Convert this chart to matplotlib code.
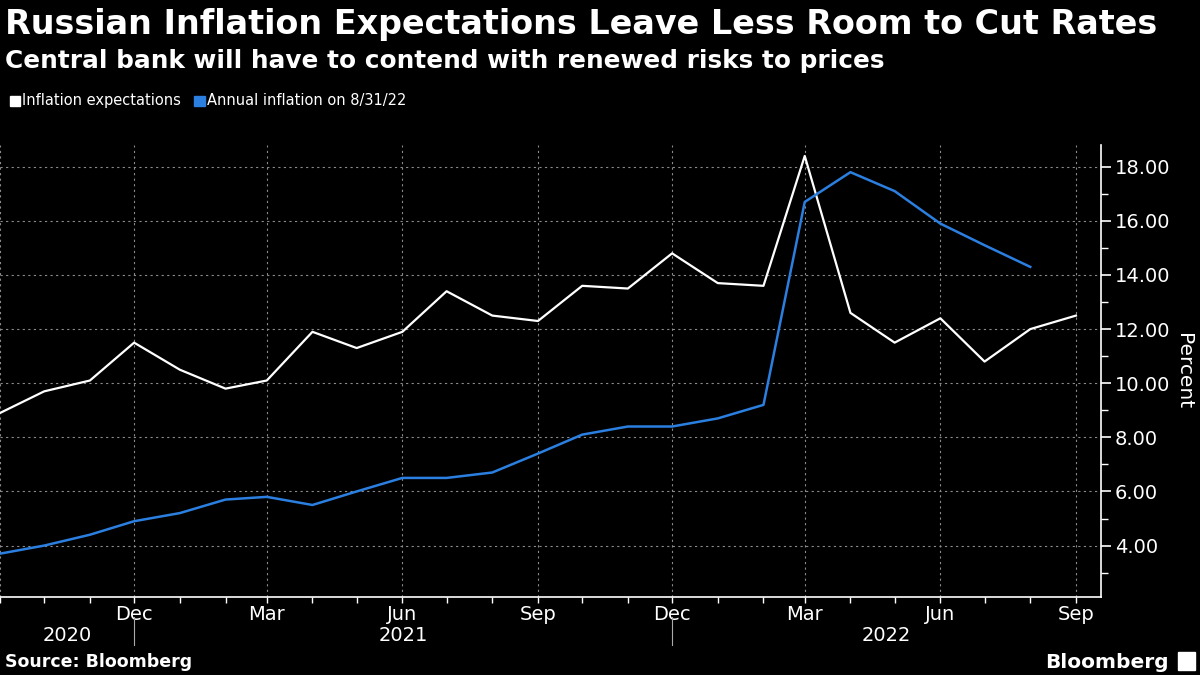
import matplotlib
matplotlib.use("Agg")
import matplotlib.pyplot as plt
import matplotlib.dates as mdates
import matplotlib.transforms as mtransforms
from matplotlib import font_manager
import pandas as pd

months = pd.date_range("2020-09-01", "2022-09-01", freq="MS")

# inflation expectations, Sep 2020 .. Sep 2022
expectations = [8.9, 9.7, 10.1, 11.5, 10.5, 9.8, 10.1, 11.9, 11.3, 11.9, 13.4, 12.5,
                12.3, 13.6, 13.5, 14.8, 13.7, 13.6, 18.4, 12.6, 11.5, 12.4, 10.8, 12.0, 12.5]
# annual inflation, Sep 2020 .. Aug 2022
annual_cpi = [3.7, 4.0, 4.4, 4.9, 5.2, 5.7, 5.8, 5.5, 6.0, 6.5, 6.5, 6.7,
              7.4, 8.1, 8.4, 8.4, 8.7, 9.2, 16.7, 17.8, 17.1, 15.9, 15.1, 14.3]

year_labels = ["2020", "2021", "2022"]
year_breaks = ["2020-12-01", "2021-12-01"]

WHITE = "#ffffff"
BLUE = "#2b7fe0"
GRID = "#8a8a8a"

plt.rcParams["font.family"] = ["DejaVu Sans"]

names = {f.name for f in font_manager.fontManager.ttflist}
narrow = "Liberation Sans Narrow" if "Liberation Sans Narrow" in names else "DejaVu Sans"
leg_size = 13 if narrow != "DejaVu Sans" else 10.5

fig = plt.figure(figsize=(12, 6.75), dpi=100, facecolor="black")
ax = fig.add_axes([0.0, 0.1156, 0.9175, 0.6694], facecolor="black")

ax.plot(months, expectations, color=WHITE, lw=1.6, clip_on=False, zorder=3)
ax.plot(months[:len(annual_cpi)], annual_cpi, color=BLUE, lw=1.8, clip_on=False, zorder=3)

start = pd.Timestamp("2020-09-01")
ax.set_xlim(start, pd.Timestamp("2022-09-18"))
ax.set_ylim(2.1, 18.8)

ax.yaxis.tick_right()
ax.yaxis.set_label_position("right")
ax.set_yticks(range(4, 19, 2))
ax.set_yticklabels([f"{v:.2f}" for v in range(4, 19, 2)])
ax.set_yticks(range(3, 19, 2), minor=True)
ax.set_ylabel("Percent", color=WHITE, fontsize=14.5, rotation=270, labelpad=16)


def month_label(x, pos):
    d = mdates.num2date(x)
    if abs(x - mdates.date2num(start)) < 1:
        return ""
    return d.strftime("%b")


ax.xaxis.set_major_locator(mdates.MonthLocator(bymonth=[3, 6, 9, 12]))
ax.xaxis.set_major_formatter(plt.FuncFormatter(month_label))
ax.xaxis.set_minor_locator(mdates.MonthLocator())

for s in ["top", "left"]:
    ax.spines[s].set_visible(False)
for s in ["bottom", "right"]:
    ax.spines[s].set_color(WHITE)
    ax.spines[s].set_linewidth(1.2)

ax.tick_params(axis="both", which="both", colors=WHITE, labelcolor=WHITE, direction="out")
ax.tick_params(axis="y", which="major", length=7, width=1.2, labelsize=14, pad=3)
ax.tick_params(axis="y", which="minor", length=5, width=1.0)
ax.tick_params(axis="x", which="major", length=4, width=1.0, labelsize=14, pad=2)
ax.tick_params(axis="x", which="minor", length=4, width=1.0)

ax.grid(True, which="major", color=GRID, linestyle=(0, (2, 3)), linewidth=0.8)

# year row below the month labels
trans = mtransforms.blended_transform_factory(ax.transData, ax.transAxes)
xmin, xmax = ax.get_xlim()
edges = [xmin] + [mdates.date2num(pd.Timestamp(d)) for d in year_breaks] + [xmax]
for i, lab in enumerate(year_labels):
    ax.text((edges[i] + edges[i + 1]) / 2, -0.085, lab, transform=trans,
            color=WHITE, fontsize=14, ha="center", va="center")
for b in edges[1:-1]:
    ax.plot([b, b], [-0.044, -0.106], transform=trans, color="#aaaaaa",
            lw=0.8, clip_on=False)

fig.text(0.004, 0.963, "Russian Inflation Expectations Leave Less Room to Cut Rates",
         color=WHITE, fontsize=24, fontweight="bold", va="center", ha="left")
fig.text(0.004, 0.910, "Central bank will have to contend with renewed risks to prices",
         color=WHITE, fontsize=17.8, fontweight="bold", va="center", ha="left")

# legend
fig.patches.append(plt.Rectangle((0.008, 0.843), 0.0085, 0.015, transform=fig.transFigure,
                                 color=WHITE))
fig.text(0.0185, 0.851, "Inflation expectations", color=WHITE, fontsize=leg_size,
         family=narrow, va="center")
fig.patches.append(plt.Rectangle((0.162, 0.843), 0.0085, 0.015, transform=fig.transFigure,
                                 color=BLUE))
fig.text(0.1725, 0.851, "Annual inflation on 8/31/22", color=WHITE, fontsize=leg_size,
         family=narrow, va="center")

fig.text(0.004, 0.019, "Source: Bloomberg", color=WHITE, fontsize=12.5,
         fontweight="bold", va="center")
fig.text(0.974, 0.019, "Bloomberg", color=WHITE, fontsize=14.5,
         fontweight="bold", va="center", ha="right")
fig.patches.append(plt.Rectangle((0.982, 0.008), 0.014, 0.026, transform=fig.transFigure,
                                 color=WHITE))

fig.savefig("out.png", dpi=100, facecolor="black")
